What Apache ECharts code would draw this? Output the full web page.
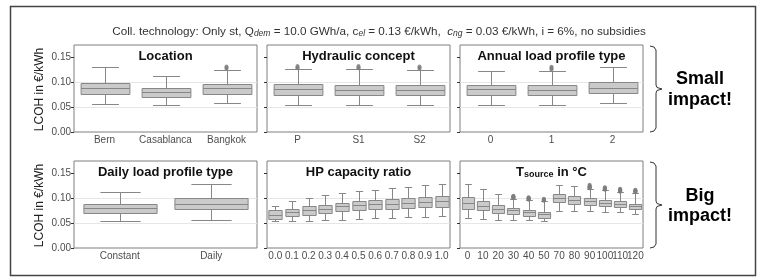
<!DOCTYPE html>
<html>
<head>
<meta charset="utf-8">
<script src="https://cdn.jsdelivr.net/npm/echarts@6/dist/echarts.min.js"></script>
<style>
  html, body { margin: 0; padding: 0; background: #fff; }
  #chart { width: 760px; height: 278px; }
</style>
</head>
<body>
<div id="chart"></div>
<script>
// box stats are [lower whisker, Q1, median, Q3, upper whisker], LCOH in EUR/kWh
const locCats = ['Bern', 'Casablanca', 'Bangkok'];
const locBox = [
  [0.057, 0.077, 0.088, 0.099, 0.131],
  [0.054, 0.070, 0.080, 0.089, 0.112],
  [0.058, 0.077, 0.088, 0.097, 0.125]
];
const locOut = [[], [], [0.127, 0.129, 0.132]];

const hydCats = ['P', 'S1', 'S2'];
const hydBox = [
  [0.055, 0.075, 0.086, 0.096, 0.126],
  [0.055, 0.075, 0.085, 0.095, 0.126],
  [0.055, 0.075, 0.085, 0.095, 0.125]
];
const hydOut = [[0.128, 0.130, 0.133], [0.128, 0.130, 0.133], [0.127, 0.129, 0.132]];

const annCats = ['0', '1', '2'];
const annBox = [
  [0.055, 0.075, 0.086, 0.095, 0.123],
  [0.054, 0.075, 0.084, 0.094, 0.123],
  [0.059, 0.078, 0.088, 0.101, 0.131]
];
const annOut = [[], [0.125, 0.127, 0.129, 0.131], []];

const dailyCats = ['Constant', 'Daily'];
const dailyBox = [
  [0.054, 0.070, 0.080, 0.089, 0.112],
  [0.056, 0.079, 0.089, 0.100, 0.129]
];
const dailyOut = [[], []];

const hpCats = ['0.0', '0.1', '0.2', '0.3', '0.4', '0.5', '0.6', '0.7', '0.8', '0.9', '1.0'];
const hpBox = [
  [0.054, 0.059, 0.067, 0.076, 0.085],
  [0.054, 0.064, 0.073, 0.079, 0.095],
  [0.055, 0.067, 0.076, 0.084, 0.101],
  [0.057, 0.071, 0.079, 0.087, 0.106],
  [0.057, 0.075, 0.084, 0.091, 0.110],
  [0.058, 0.077, 0.086, 0.094, 0.114],
  [0.060, 0.079, 0.088, 0.096, 0.117],
  [0.061, 0.079, 0.089, 0.098, 0.120],
  [0.062, 0.080, 0.091, 0.100, 0.123],
  [0.063, 0.082, 0.093, 0.102, 0.126],
  [0.064, 0.083, 0.094, 0.104, 0.129]
];
const hpOut = [[], [], [], [], [], [], [], [], [], [], []];

const tsCats = ['0', '10', '20', '30', '40', '50', '70', '80', '90', '100', '110', '120'];
const tsBox = [
  [0.060, 0.079, 0.091, 0.102, 0.129],
  [0.059, 0.076, 0.085, 0.094, 0.118],
  [0.057, 0.071, 0.079, 0.086, 0.108],
  [0.057, 0.069, 0.077, 0.081, 0.099],
  [0.056, 0.065, 0.073, 0.077, 0.096],
  [0.054, 0.061, 0.068, 0.072, 0.094],
  [0.075, 0.093, 0.101, 0.108, 0.127],
  [0.074, 0.089, 0.097, 0.104, 0.124],
  [0.074, 0.087, 0.095, 0.101, 0.119],
  [0.073, 0.085, 0.091, 0.097, 0.116],
  [0.072, 0.083, 0.089, 0.094, 0.112],
  [0.069, 0.078, 0.085, 0.089, 0.111]
];
const tsOut = [[], [], [],
  [0.100, 0.101, 0.102, 0.103, 0.104, 0.105],
  [0.097, 0.098, 0.099, 0.100, 0.101, 0.102],
  [0.095, 0.096, 0.097, 0.098, 0.099],
  [], [],
  [0.120, 0.121, 0.122, 0.123, 0.124, 0.125, 0.127],
  [0.117, 0.118, 0.119, 0.120, 0.121, 0.122],
  [0.113, 0.114, 0.115, 0.116, 0.117, 0.118, 0.119],
  [0.112, 0.113, 0.114, 0.115, 0.116, 0.117]];

const yTicks = [0, 0.05, 0.10, 0.15];

const facets = [
  { cats: locCats, box: locBox, out: locOut, title: 'Location' },
  { cats: hydCats, box: hydBox, out: hydOut, title: 'Hydraulic concept' },
  { cats: annCats, box: annBox, out: annOut, title: 'Annual load profile type' },
  { cats: dailyCats, box: dailyBox, out: dailyOut, title: 'Daily load profile type' },
  { cats: hpCats, box: hpBox, out: hpOut, title: 'HP capacity ratio' },
  { cats: tsCats, box: tsBox, out: tsOut, title: '{b|T}{bs|source}{b| in °C}' }
];

// layout
const FONT = 'Liberation Sans, Arial, sans-serif';
const colLeft = [74, 267, 460];
const rowTop = [45, 161];
const pw = 183, ph = 87;
const boxFill = '#cacaca', boxLine = '#878787';

function crisp(v) { return Math.round(v) + 0.5; }

function renderBox(params, api) {
  const x = api.value(0);
  const lo = api.coord([x, api.value(1)]);
  const q1 = api.coord([x, api.value(2)]);
  const md = api.coord([x, api.value(3)]);
  const q3 = api.coord([x, api.value(4)]);
  const hi = api.coord([x, api.value(5)]);
  const band = api.size([1, 0])[0];
  const bw = band * 0.8, cw = bw * 0.55;
  const cx = crisp(lo[0]);
  const ls = { stroke: boxLine, lineWidth: 1, fill: null };
  const ln = (x1, y1, x2, y2) => ({ type: 'line', shape: { x1: x1, y1: y1, x2: x2, y2: y2 }, style: ls });
  return {
    type: 'group',
    children: [
      ln(cx, crisp(hi[1]), cx, crisp(q3[1])),
      ln(cx, crisp(q1[1]), cx, crisp(lo[1])),
      ln(cx - cw / 2, crisp(hi[1]), cx + cw / 2, crisp(hi[1])),
      ln(cx - cw / 2, crisp(lo[1]), cx + cw / 2, crisp(lo[1])),
      { type: 'rect', shape: { x: cx - bw / 2, y: crisp(q3[1]), width: bw, height: Math.round(q1[1]) - Math.round(q3[1]) },
        style: { fill: boxFill, stroke: boxLine, lineWidth: 1 } },
      ln(cx - bw / 2, crisp(md[1]), cx + bw / 2, crisp(md[1]))
    ]
  };
}

const grids = [], xAxes = [], yAxes = [], series = [], graphics = [];

facets.forEach((f, i) => {
  const row = i < 3 ? 0 : 1, col = i % 3;
  grids.push({ left: colLeft[col], top: rowTop[row], width: pw, height: ph,
    show: true, borderColor: '#7f7f7f', borderWidth: 1, backgroundColor: 'transparent' });
  xAxes.push({
    gridIndex: i, type: 'category', data: f.cats,
    axisLine: { show: false },
    axisTick: { alignWithLabel: true, length: 3, lineStyle: { color: '#333' } },
    axisLabel: { interval: 0, fontSize: 10, color: '#4d4d4d', margin: 3, fontFamily: FONT },
    splitLine: { show: false }
  });
  yAxes.push({
    gridIndex: i, type: 'value', min: 0, max: 0.175, interval: 0.05,
    axisLine: { show: false },
    axisTick: { show: true, length: 3, customValues: yTicks, lineStyle: { color: '#333' } },
    axisLabel: { show: col === 0, customValues: yTicks, fontSize: 10, color: '#4d4d4d', margin: 3,
      fontFamily: FONT, formatter: v => v.toFixed(2) },
    splitLine: { show: true, showMinLine: false, showMaxLine: false, lineStyle: { color: '#e6e6e6', width: 1 } }
  });
  series.push({
    type: 'custom', xAxisIndex: i, yAxisIndex: i, renderItem: renderBox, z: 3,
    data: f.box.map((b, j) => [j].concat(b)),
    encode: { x: 0, y: [1, 2, 3, 4, 5] }
  });
  const pts = [];
  f.out.forEach((vals, j) => vals.forEach(v => pts.push([j, v])));
  series.push({
    type: 'scatter', xAxisIndex: i, yAxisIndex: i, data: pts, symbolSize: 4, z: 4,
    itemStyle: { color: '#7d7d7d' }
  });
  // facet title
  graphics.push({
    type: 'text', x: colLeft[col] + pw / 2, y: rowTop[row] + 11, z: 50,
    style: {
      text: f.title.indexOf('{') === 0 ? f.title : '{b|' + f.title + '}',
      align: 'center', verticalAlign: 'middle',
      backgroundColor: '#fff', padding: [0, 3],
      rich: {
        b: { fontFamily: FONT, fontSize: 13, fontWeight: 'bold', fill: '#111', lineHeight: 15 },
        bs: { fontFamily: FONT, fontSize: 9, fontWeight: 'bold', fill: '#111', lineHeight: 9, padding: [6, 0, 0, 0], verticalAlign: 'bottom' }
      }
    }
  });
});

// y axis names
rowTop.forEach(t => {
  graphics.push({
    type: 'text', x: 40, y: t + ph / 2 + 1, rotation: Math.PI / 2, z: 50,
    style: { text: 'LCOH in €/kWh', font: '12px ' + FONT, fill: '#222', align: 'center', verticalAlign: 'middle' }
  });
});

// top caption
graphics.push({
  type: 'text', x: 379, y: 32, z: 50,
  style: {
    text: 'Coll. technology: Only st, Q{s|dem} = 10.0 GWh/a, c{s|el} = 0.13 €/kWh,  {i|c}{s|ng} = 0.03 €/kWh, i = 6%, no subsidies',
    font: '11.7px ' + FONT, fill: '#333', align: 'center', verticalAlign: 'middle',
    rich: {
      s: { fontFamily: FONT, fontSize: 8.5, fontStyle: 'italic', fill: '#333', lineHeight: 9, padding: [5, 0, 0, 0], verticalAlign: 'bottom' },
      i: { fontFamily: FONT, fontSize: 11.7, fontStyle: 'italic', fill: '#333' }
    }
  }
});

// brackets and impact notes
[[46, 132], [162, 248]].forEach(r => {
  const y0 = r[0], y1 = r[1], ym = (y0 + y1) / 2;
  graphics.push({
    type: 'polyline', z: 50,
    shape: { points: [[650, y0], [654, y0 + 1], [656, y0 + 4], [656, ym - 4], [657, ym - 1.5], [662, ym],
      [657, ym + 1.5], [656, ym + 4], [656, y1 - 4], [654, y1 - 1], [650, y1]] },
    style: { fill: null, stroke: '#333', lineWidth: 1 }
  });
});
graphics.push({
  type: 'text', x: 700, y: 90, z: 50,
  style: { text: 'Small\nimpact!', font: 'bold 18px ' + FONT, fill: '#000', align: 'center', verticalAlign: 'middle', lineHeight: 21 }
});
graphics.push({
  type: 'text', x: 700, y: 206, z: 50,
  style: { text: 'Big\nimpact!', font: 'bold 18px ' + FONT, fill: '#000', align: 'center', verticalAlign: 'middle', lineHeight: 20 }
});

// outer frame
graphics.push({
  type: 'rect', z: 60, shape: { x: 10.5, y: 6.5, width: 745, height: 269 },
  style: { fill: null, stroke: '#444', lineWidth: 1.5 }
});

const chart = echarts.init(document.getElementById('chart'));
chart.setOption({
  animation: false,
  backgroundColor: '#fff',
  textStyle: { fontFamily: FONT },
  grid: grids,
  xAxis: xAxes,
  yAxis: yAxes,
  series: series,
  graphic: graphics
});
</script>
</body>
</html>
